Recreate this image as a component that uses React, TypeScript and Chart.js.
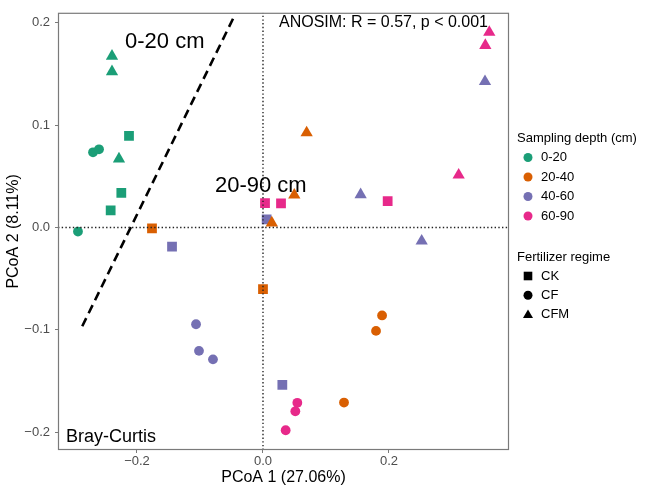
import React, { useEffect, useRef } from 'react';
import { Chart, registerables } from 'chart.js';

Chart.register(...registerables);

const FONT = "'Liberation Sans', Arial, Helvetica, sans-serif";

// Axis limits (data units)
const xMin = -0.3254;
const xMax = 0.3905;
const yMin = -0.2173;
const yMax = 0.2096;

// Legend / categories
const depthLabels = ['0-20', '20-40', '40-60', '60-90'];
const depthColors = ['#1B9E77', '#D95F02', '#7570B3', '#E7298A'];
const regimeLabels = ['CK', 'CF', 'CFM'];
const regimeStyles = ['rect', 'circle', 'triangle'];
const regimeRadius = [6.9, 4.9, 7.1];

// Depth 0-20 cm
const d020X = [-0.2397, -0.2397, -0.2286, -0.2698, -0.2603, -0.2127, -0.2249, -0.2418, -0.2937];
const d020Y = [0.1672, 0.1522, 0.0669, 0.0734, 0.0763, 0.0894, 0.0337, 0.0166, -0.0040];
const d020R = ['CFM', 'CFM', 'CFM', 'CF', 'CF', 'CK', 'CK', 'CK', 'CF'];

// Depth 20-40 cm
const d2040X = [-0.1762, 0.0000, 0.1890, 0.1794, 0.1286, 0.0693, 0.0497, 0.0140];
const d2040Y = [-0.0010, -0.0603, -0.0859, -0.1010, -0.1710, 0.0925, 0.0317, 0.0045];
const d2040R = ['CK', 'CK', 'CF', 'CF', 'CF', 'CFM', 'CFM', 'CFM'];

// Depth 40-60 cm
const d4060X = [-0.1444, 0.0058, -0.1063, -0.1016, -0.0794, 0.0307, 0.1550, 0.2519, 0.3524];
const d4060Y = [-0.0186, 0.0080, -0.0945, -0.1205, -0.1288, -0.1538, 0.0320, -0.0132, 0.1425];
const d4060R = ['CK', 'CK', 'CF', 'CF', 'CF', 'CK', 'CFM', 'CFM', 'CFM'];

// Depth 60-90 cm
const d6090X = [0.3592, 0.3529, 0.3106, 0.0032, 0.0286, 0.1979, 0.0545, 0.0513, 0.0360];
const d6090Y = [0.1906, 0.1778, 0.0512, 0.0237, 0.0234, 0.0257, -0.1712, -0.1795, -0.1980];
const d6090R = ['CFM', 'CFM', 'CFM', 'CK', 'CK', 'CK', 'CF', 'CF', 'CF'];

// Separation line (top to bottom)
const sepX = [-0.0476, -0.2889];
const sepY = [0.2038, -0.0990];

// Text annotations (data coordinates, left/middle anchored)
const annoTexts = ['0-20 cm', '20-90 cm', 'ANOSIM: R = 0.57, p < 0.001', 'Bray-Curtis'];
const annoX = [-0.2190, -0.0762, 0.0254, -0.3127];
const annoY = [0.1808, 0.0407, 0.2000, -0.2048];
const annoSize = [22, 22, 16, 18];

const depthXs = [d020X, d2040X, d4060X, d6090X];
const depthYs = [d020Y, d2040Y, d4060Y, d6090Y];
const depthRs = [d020R, d2040R, d4060R, d6090R];
const depthOrder = [4, 2, 3, 1];

const fmt = (v: number) => {
  if (Math.abs(v) < 1e-9) return '0.0';
  return (v < 0 ? '\u2212' : '') + Math.abs(v).toFixed(1);
};

const overlayPlugin = {
  id: 'overlay',
  afterDraw(chart: any) {
    const { ctx, chartArea, scales } = chart;
    const sx = scales.x;
    const sy = scales.y;
    ctx.save();
    // panel border
    ctx.strokeStyle = '#7a7a7a';
    ctx.lineWidth = 1.2;
    ctx.strokeRect(chartArea.left + 0.5, chartArea.top + 0.5, chartArea.right - chartArea.left - 1, chartArea.bottom - chartArea.top - 1);

    // annotations
    ctx.fillStyle = '#000';
    ctx.textAlign = 'left';
    ctx.textBaseline = 'middle';
    annoTexts.forEach((t, i) => {
      ctx.font = `${annoSize[i]}px ${FONT}`;
      ctx.fillText(t, sx.getPixelForValue(annoX[i]), sy.getPixelForValue(annoY[i]));
    });

    // legend
    const lx = chartArea.right + 8;
    const sym = lx + 11;
    const tx = lx + 24;
    ctx.font = `13px ${FONT}`;
    ctx.fillStyle = '#000';
    ctx.fillText('Sampling depth (cm)', lx, 138);
    depthLabels.forEach((lab, i) => {
      const y = 157.5 + i * 19.5;
      ctx.beginPath();
      ctx.fillStyle = depthColors[i];
      ctx.arc(sym, y, 4.5, 0, Math.PI * 2);
      ctx.fill();
      ctx.fillStyle = '#000';
      ctx.fillText(lab, tx, y);
    });
    ctx.fillText('Fertilizer regime', lx, 257);
    regimeLabels.forEach((lab, i) => {
      const y = 276 + i * 19.2;
      ctx.fillStyle = '#000';
      ctx.beginPath();
      if (regimeStyles[i] === 'rect') {
        ctx.rect(sym - 4.3, y - 4.3, 8.6, 8.6);
      } else if (regimeStyles[i] === 'circle') {
        ctx.arc(sym, y, 4.5, 0, Math.PI * 2);
      } else {
        const r = 5.8;
        ctx.moveTo(sym, y - r + 0.8);
        ctx.lineTo(sym + r * 0.866, y + r * 0.5 + 0.8);
        ctx.lineTo(sym - r * 0.866, y + r * 0.5 + 0.8);
        ctx.closePath();
      }
      ctx.fill();
      ctx.fillText(lab, tx, y);
    });
    ctx.restore();
  },
};

export default function App() {
  const ref = useRef<HTMLCanvasElement | null>(null);

  useEffect(() => {
    document.body.style.margin = '0';
    const canvas = ref.current;
    if (!canvas) return;

    const pointSets = depthLabels.map((lab, i) => {
      const rs = depthRs[i];
      return {
        label: lab,
        data: depthXs[i].map((x, j) => ({ x, y: depthYs[i][j] })),
        backgroundColor: depthColors[i],
        borderColor: depthColors[i],
        borderWidth: 0,
        pointStyle: rs.map((r) => regimeStyles[regimeLabels.indexOf(r)]),
        pointRadius: rs.map((r) => regimeRadius[regimeLabels.indexOf(r)]),
        pointHoverRadius: rs.map((r) => regimeRadius[regimeLabels.indexOf(r)]),
        showLine: false,
        order: depthOrder[i],
      };
    });

    const zeroH = {
      label: 'zeroH',
      data: [{ x: xMin, y: 0 }, { x: xMax, y: 0 }],
      showLine: true,
      borderColor: '#222',
      borderWidth: 1.4,
      borderDash: [1.4, 2.3],
      pointRadius: 0,
      fill: false,
      order: 0,
    };
    const zeroV = {
      label: 'zeroV',
      data: [{ x: 0, y: yMin }, { x: 0, y: yMax }],
      showLine: true,
      borderColor: '#222',
      borderWidth: 1.4,
      borderDash: [1.4, 2.3],
      pointRadius: 0,
      fill: false,
      order: 0,
    };
    const sep = {
      label: 'sep',
      data: sepX.map((x, j) => ({ x, y: sepY[j] })),
      showLine: true,
      borderColor: '#000',
      borderWidth: 2.6,
      borderDash: [9, 5.5],
      pointRadius: 0,
      fill: false,
      order: 5,
    };

    const chart = new Chart(canvas, {
      type: 'scatter',
      data: { datasets: [zeroH, zeroV, ...pointSets, sep] as any },
      options: {
        animation: false,
        responsive: false,
        devicePixelRatio: 1,
        layout: { padding: { left: 0, top: 6, right: 137, bottom: 0 } },
        plugins: { legend: { display: false }, tooltip: { enabled: false } },
        events: [],
        scales: {
          x: {
            type: 'linear',
            min: xMin,
            max: xMax,
            afterFit: (s: any) => { s.height = 43; },
            ticks: {
              stepSize: 0.2,
              includeBounds: false,
              callback: (v: any) => fmt(Number(v)),
              color: '#4D4D4D',
              font: { size: 13, family: FONT },
              padding: 1,
              maxRotation: 0,
              autoSkip: false,
            },
            grid: { display: true, drawOnChartArea: false, drawTicks: true, tickLength: 3, color: '#7a7a7a', lineWidth: 1 },
            border: { display: false },
            title: { display: true, text: 'PCoA 1 (27.06%)', color: '#000', font: { size: 16, family: FONT }, padding: { top: 0, bottom: 6 } },
          },
          y: {
            type: 'linear',
            min: yMin,
            max: yMax,
            afterFit: (s: any) => { s.width = 58; },
            ticks: {
              stepSize: 0.1,
              includeBounds: false,
              callback: (v: any) => fmt(Number(v)),
              color: '#4D4D4D',
              font: { size: 13, family: FONT },
              padding: 5,
              autoSkip: false,
            },
            grid: { display: true, drawOnChartArea: false, drawTicks: true, tickLength: 3, color: '#7a7a7a', lineWidth: 1 },
            border: { display: false },
            title: { display: true, text: 'PCoA 2 (8.11%)', color: '#000', font: { size: 16, family: FONT }, padding: { top: 3.5, bottom: 0 } },
          },
        },
      } as any,
      plugins: [overlayPlugin],
    });

    return () => chart.destroy();
  }, []);

  return (
    <div style={{ width: 646, height: 493, background: '#fff' }}>
      <canvas ref={ref} width={646} height={493} style={{ display: 'block', width: 646, height: 493 }} />
    </div>
  );
}
